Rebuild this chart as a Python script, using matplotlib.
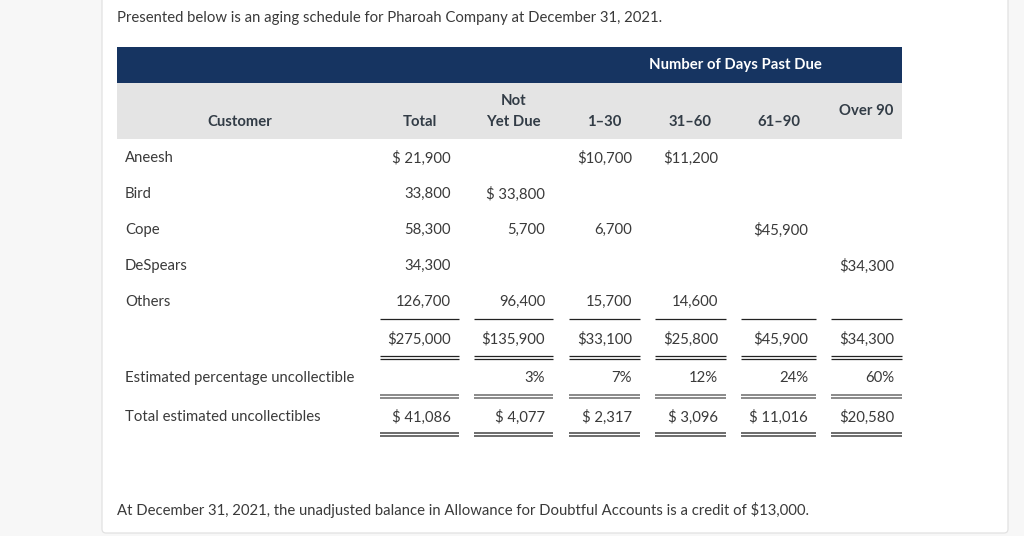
import matplotlib.pyplot as plt
from matplotlib.patches import Rectangle, FancyBboxPatch

plt.rcParams['font.family'] = ['Lato', 'DejaVu Sans']
plt.rcParams['font.size'] = 10.7

# table content
customers = ['Aneesh', 'Bird', 'Cope', 'DeSpears', 'Others']
columns = ['Total', 'Not\nYet Due', '1\u201330', '31\u201360', '61\u201390', 'Over 90']
rows = [
    [21900, None, 10700, 11200, None, None],
    [33800, 33800, None, None, None, None],
    [58300, 5700, 6700, None, 45900, None],
    [34300, None, None, None, None, 34300],
    [126700, 96400, 15700, 14600, None, None],
]
totals = [275000, 135900, 33100, 25800, 45900, 34300]
pct_uncollectible = [None, 3, 7, 12, 24, 60]
est_uncollectible = [41086, 4077, 2317, 3096, 11016, 20580]
first_prefix = ['$ ', '$ ', '$', '$', '$', '$']
est_prefix = ['$ ', '$ ', '$ ', '$ ', '$ ', '$']

title = 'Presented below is an aging schedule for Pharoah Company at December 31, 2021.'
note = ('At December 31, 2021, the unadjusted balance in Allowance for Doubtful '
        'Accounts is a credit of $13,000.')

# layout (pixels)
col_left = [380, 474, 569, 655, 741, 831]
col_right = [459, 553, 640, 726, 816, 902]
row_y = [158, 194, 230, 266, 302]
text_c = '#3a3a3a'
head_c = '#323c46'
navy = '#163461'

fig = plt.figure(figsize=(10.24, 5.36), dpi=100, facecolor='#f7f7f7')
ax = fig.add_axes([0, 0, 1, 1])
ax.set_xlim(0, 1024)
ax.set_ylim(536, 0)
ax.axis('off')

ax.add_patch(FancyBboxPatch((102, -10), 906, 543, boxstyle='round,pad=0,rounding_size=4',
                            facecolor='white', edgecolor='#e2e2e2', lw=0.9))

ax.text(117, 18, title, color=text_c, va='center', ha='left')

# header bands
ax.add_patch(Rectangle((117, 47), 785, 36, facecolor=navy, edgecolor='none'))
ax.add_patch(Rectangle((117, 83), 785, 56, facecolor='#e4e4e4', edgecolor='none'))
ax.text(735, 65, 'Number of Days Past Due', fontweight='bold',
        color='white', ha='center', va='center')
ax.text(240, 122, 'Customer', fontweight='bold', color=head_c,
        ha='center', va='center')
for j, name in enumerate(columns):
    cx = (col_left[j] + col_right[j]) / 2
    if name == 'Over 90':
        ax.text(cx, 111, name, fontweight='bold', color=head_c,
                ha='center', va='center')
    elif '\n' in name:
        top, bottom = name.split('\n')
        ax.text(cx, 101, top, fontweight='bold', color=head_c,
                ha='center', va='center')
        ax.text(cx, 122, bottom, fontweight='bold', color=head_c,
                ha='center', va='center')
    else:
        ax.text(cx, 122, name, fontweight='bold', color=head_c,
                ha='center', va='center')


def right_x(j):
    return col_right[j] - 8


# customer rows
seen = [False] * len(columns)
for i, cust in enumerate(customers):
    ax.text(125, row_y[i], cust, color=text_c, ha='left', va='center')
    for j, v in enumerate(rows[i]):
        if v is None:
            continue
        s = f'{v:,}'
        if not seen[j]:
            s = first_prefix[j] + s
            seen[j] = True
        ax.text(right_x(j), row_y[i], s, color=text_c,
                ha='right', va='center')

# totals row
for j, v in enumerate(totals):
    ax.hlines(319, col_left[j], col_right[j], color='#222222', lw=0.9)
    ax.text(right_x(j), 339, f'${v:,}', color=text_c,
            ha='right', va='center')
    ax.hlines([356, 359], col_left[j], col_right[j], color='#222222', lw=0.9)

# percentage row
ax.text(125, 378, 'Estimated percentage uncollectible', color=text_c,
        ha='left', va='center')
for j, p in enumerate(pct_uncollectible):
    if p is not None:
        ax.text(right_x(j), 378, f'{p}%', color=text_c,
                ha='right', va='center')
    ax.hlines([395, 398], col_left[j], col_right[j], color='#777777', lw=1.2)

# estimated uncollectibles row
ax.text(125, 417, 'Total estimated uncollectibles', color=text_c,
        ha='left', va='center')
for j, v in enumerate(est_uncollectible):
    ax.text(right_x(j), 417, f'{est_prefix[j]}{v:,}', color=text_c,
            ha='right', va='center')
    ax.hlines([433, 436], col_left[j], col_right[j], color='#444444', lw=1.1)

ax.text(117, 510, note, color=text_c, ha='left', va='center')

fig.savefig('out.png', dpi=100, facecolor=fig.get_facecolor())
